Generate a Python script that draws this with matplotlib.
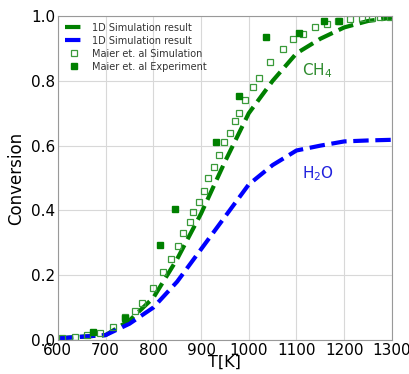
import matplotlib.pyplot as plt

# 1D simulation (this work)
sim_T = [600, 650, 700, 750, 800, 850, 900, 950, 1000, 1050, 1100, 1150, 1200, 1250, 1300]
sim_ch4 = [0.005, 0.01, 0.015, 0.06, 0.13, 0.25, 0.39, 0.55, 0.70, 0.80, 0.885, 0.93, 0.965, 0.985, 0.995]
sim_h2o = [0.005, 0.01, 0.015, 0.05, 0.10, 0.18, 0.28, 0.38, 0.48, 0.54, 0.585, 0.60, 0.613, 0.616, 0.618]

# Maier et. al simulation
maier_sim_T = [608, 636, 661, 688, 716, 740, 761, 776, 800, 821, 838, 852, 863, 877, 884, 895,
               906, 915, 927, 937, 948, 960, 971, 980, 993, 1008, 1022, 1045, 1071, 1093,
               1114, 1139, 1164, 1188, 1212, 1237, 1258, 1275, 1296]
maier_sim = [0.006, 0.009, 0.015, 0.02, 0.04, 0.07, 0.09, 0.115, 0.16, 0.21, 0.25, 0.29, 0.33,
             0.365, 0.395, 0.425, 0.46, 0.50, 0.535, 0.57, 0.61, 0.64, 0.675, 0.70, 0.74, 0.78,
             0.81, 0.857, 0.897, 0.929, 0.944, 0.966, 0.977, 0.985, 0.99, 0.993, 0.995, 0.996, 0.997]

# Maier et. al experiment
maier_exp_T = [673, 740, 814, 845, 931, 980, 1036, 1106, 1158, 1189]
maier_exp = [0.025, 0.068, 0.293, 0.404, 0.612, 0.754, 0.936, 0.949, 0.985, 0.985]

fig = plt.figure(figsize=(4.10, 3.74), dpi=100)
ax = fig.add_axes([0.141, 0.091, 0.815, 0.866])

ax.plot(sim_T, sim_ch4, '--', color='green', lw=3, label='1D Simulation result')
ax.plot(sim_T, sim_h2o, '--', color='blue', lw=3, label='1D Simulation result')
ax.plot(maier_sim_T, maier_sim, 's', mfc='none', mec='#3a9a3a', mew=0.9, ms=4.5,
        label='Maier et. al Simulation')
ax.plot(maier_exp_T, maier_exp, 's', color='green', ms=5, label='Maier et. al Experiment')

ax.text(1111, 0.833, 'CH$_4$', color='#2e8b2e', fontsize=11, va='center')
ax.text(1111, 0.515, 'H$_2$O', color='#2020dd', fontsize=11, va='center')

ax.set_xlim(600, 1300)
ax.set_ylim(0, 1.0)
ax.set_xlabel('T[K]', fontsize=11.5, labelpad=-2)
ax.set_ylabel('Conversion', fontsize=12)
ax.tick_params(labelsize=11, length=0, pad=2)
ax.grid(True, color='#d8d8d8', lw=0.8)
for s in ax.spines.values():
    s.set_color('#999999')

leg = ax.legend(loc='upper left', fontsize=7, frameon=False, handlelength=2,
                borderaxespad=0.3, labelspacing=0.3)
for t in leg.get_texts():
    t.set_color('#333333')

fig.savefig('out.png', dpi=100)
